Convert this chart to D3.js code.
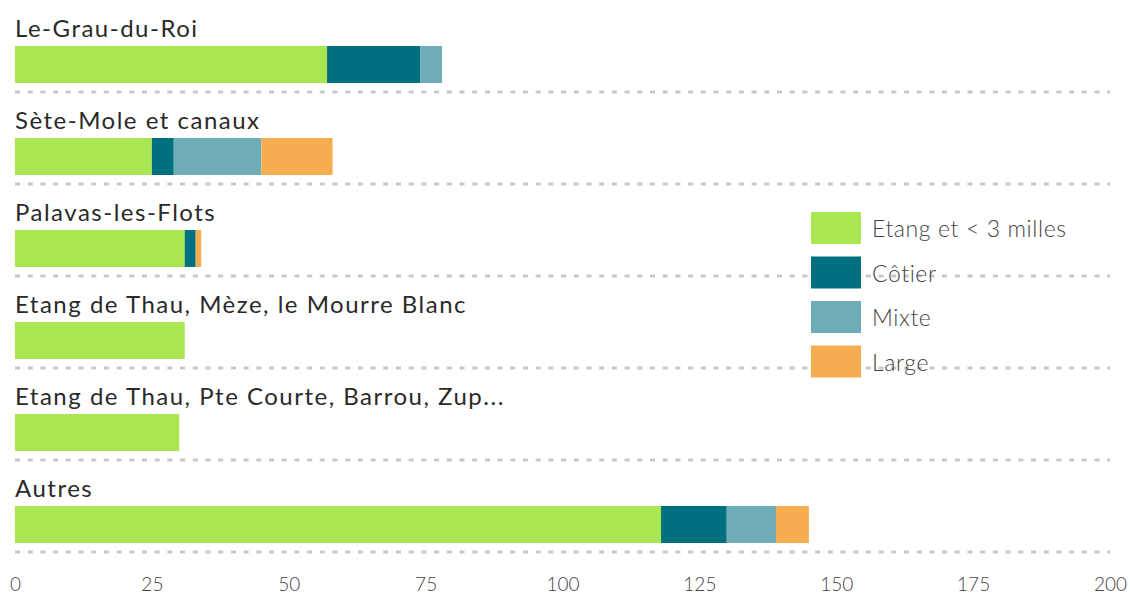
<!DOCTYPE html>
<html><head><meta charset="utf-8">
<script src="https://cdn.jsdelivr.net/npm/d3@7"></script>
<style>body{margin:0;background:#fff;} svg{display:block;}</style>
</head><body>
<script>
const categories = ["Le-Grau-du-Roi","Sète-Mole et canaux","Palavas-les-Flots","Etang de Thau, Mèze, le Mourre Blanc","Etang de Thau, Pte Courte, Barrou, Zup...","Autres"];
const seriesNames = ["Etang et < 3 milles","Côtier","Mixte","Large"];
const etang = [57,25,31,31,30,118];
const cotier = [17,4,2,0,0,12];
const mixte = [4,16,0,0,0,9];
const large = [0,13,1,0,0,6];
const ticks = [0,25,50,75,100,125,150,175,200];
const colors = ["#a8e652","#00707e","#6fadb6","#f5ad50"];

const W=1130,H=601;
const svg=d3.select("body").append("svg").attr("width",W).attr("height",H);
const font="Lato, 'Open Sans', sans-serif";

const rows = categories.map((c,i)=>({cat:c,[seriesNames[0]]:etang[i],[seriesNames[1]]:cotier[i],[seriesNames[2]]:mixte[i],[seriesNames[3]]:large[i]}));
const stack=d3.stack().keys(seriesNames)(rows);

const x=d3.scaleLinear().domain([0,200]).range([15,1110]);
const step=92, top0=0;
const band=d3.scaleBand().domain(categories).range([top0, top0+step*categories.length]).paddingInner(0).paddingOuter(0);

// dashed separators
svg.append("g").selectAll("line").data(categories).join("line")
  .attr("x1",x(0)).attr("x2",x(200))
  .attr("y1",d=>band(d)+92).attr("y2",d=>band(d)+92)
  .attr("stroke","#c8c8c8").attr("stroke-width",3).attr("stroke-dasharray","5,7.7");

// labels
svg.append("g").selectAll("text").data(categories).join("text")
  .attr("x",x(0)).attr("y",d=>band(d)+37)
  .attr("font-family",font).attr("font-size",24).attr("fill","#2a2a2a")
  .attr("letter-spacing","1.5px")
  .text(d=>d);

// bars
svg.append("g").selectAll("g").data(stack).join("g")
  .attr("fill",(d,i)=>colors[i])
  .selectAll("rect").data(d=>d).join("rect")
  .attr("x",d=>x(d[0])).attr("width",d=>Math.max(0,x(d[1])-x(d[0])))
  .attr("y",(d,i)=>band(categories[i])+46).attr("height",37);

// axis
const ax=svg.append("g").attr("transform","translate(0,577)")
  .call(d3.axisBottom(x).tickValues(ticks).tickSize(0).tickPadding(0));
ax.select(".domain").remove();
ax.selectAll("text").attr("font-family",font).attr("font-size",19).attr("font-weight",300).attr("fill","#444").attr("dy","0.71em");

// legend
const lg=svg.append("g").attr("transform","translate(811,212)");
const li=lg.selectAll("g").data(seriesNames).join("g").attr("transform",(d,i)=>`translate(0,${i*44.5})`);
li.append("rect").attr("width",50).attr("height",32).attr("fill",(d,i)=>colors[i]);
li.append("text").attr("x",61).attr("y",25).attr("font-family",font).attr("font-size",23).attr("font-weight",300).attr("fill","#444").attr("letter-spacing","0.6px").text(d=>d);
</script>
</body></html>
